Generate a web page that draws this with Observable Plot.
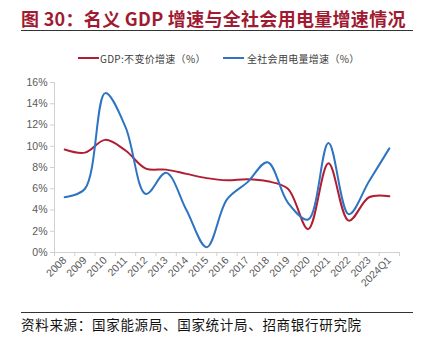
<!DOCTYPE html>
<html>
<head>
<meta charset="utf-8">
<script src="https://cdn.jsdelivr.net/npm/d3@7"></script>
<script src="https://cdn.jsdelivr.net/npm/@observablehq/plot@0.6"></script>
<style>
  html, body { margin: 0; padding: 0; background: #fff; }
  #wrap { position: relative; width: 424px; height: 337px; overflow: hidden; font-family: "Noto Sans CJK SC", sans-serif; }
  #title { position: absolute; left: 21px; top: 5px; font-size: 18px; font-weight: 700; color: #9E1B32; white-space: nowrap; letter-spacing: 0.3px; }
  #topline { position: absolute; left: 21px; top: 30px; width: 392px; height: 0; border-top: 1.5px solid #333; }
  #botline { position: absolute; left: 21px; top: 312px; width: 392px; height: 0; border-top: 1.5px solid #333; }
  #source { position: absolute; left: 21px; top: 314px; font-size: 13.5px; color: #111; white-space: nowrap; letter-spacing: 0.7px; }
  .leg { position: absolute; top: 51px; font-size: 10px; color: #404040; white-space: nowrap; letter-spacing: 0.3px; }
  .sw { position: absolute; top: 57px; width: 21px; height: 0; border-top: 2px solid; }
  #chart { position: absolute; left: 0; top: 0; }
</style>
</head>
<body>
<div id="wrap">
  <div id="chart"></div>
  <div id="title"></div>
  <div id="topline"></div>
  <div class="sw" id="sw1" style="left:78px;"></div>
  <div class="leg" id="leg1" style="left:100px;"></div>
  <div class="sw" id="sw2" style="left:223px;"></div>
  <div class="leg" id="leg2" style="left:247px;"></div>
  <div id="botline"></div>
  <div id="source"></div>
</div>
<script>
const titleText = "图 30：名义 GDP 增速与全社会用电量增速情况";
const sourceText = "资料来源：国家能源局、国家统计局、招商银行研究院";
const seriesNames = ["GDP:不变价增速（%）", "全社会用电量增速（%）"];
const seriesColors = ["#B01E33", "#2E74C2"];
const categories = ["2008","2009","2010","2011","2012","2013","2014","2015","2016","2017","2018","2019","2020","2021","2022","2023","2024Q1"];
const gdpGrowth = [9.7, 9.4, 10.6, 9.6, 7.9, 7.8, 7.4, 7.0, 6.8, 6.9, 6.7, 6.0, 2.2, 8.4, 3.0, 5.2, 5.3];
const powerGrowth = [5.2, 6.0, 15.0, 11.8, 5.5, 7.5, 4.0, 0.5, 5.0, 6.6, 8.5, 4.7, 3.1, 10.3, 3.6, 6.7, 9.8];
const yTicks = [0, 2, 4, 6, 8, 10, 12, 14, 16];

document.getElementById("title").textContent = titleText;
document.getElementById("source").textContent = sourceText;
document.getElementById("leg1").textContent = seriesNames[0];
document.getElementById("leg2").textContent = seriesNames[1];
document.getElementById("sw1").style.borderTopColor = seriesColors[0];
document.getElementById("sw2").style.borderTopColor = seriesColors[1];

const rows = [];
categories.forEach((c, i) => {
  rows.push({i, cat: c, v: gdpGrowth[i], s: seriesNames[0]});
  rows.push({i, cat: c, v: powerGrowth[i], s: seriesNames[1]});
});
const n = categories.length;
const bounds = d3.range(n + 1).map(k => k - 0.5);
const centers = d3.range(n);
const axisColor = "#d0d0d0";
const labelFont = "'Liberation Sans Narrow', 'Arial Narrow', 'Liberation Sans', sans-serif";

const chart = Plot.plot({
  width: 424,
  height: 337,
  marginTop: 82,
  marginBottom: 85,
  marginLeft: 54,
  marginRight: 25,
  style: { fontFamily: labelFont, fontSize: "10.5px", color: "#595959", background: "transparent" },
  x: { type: "linear", domain: [-0.5, n - 0.5] },
  y: { domain: [0, 16] },
  color: { domain: seriesNames, range: seriesColors },
  marks: [
    Plot.ruleY([0], { stroke: axisColor, strokeWidth: 1 }),
    Plot.ruleX([-0.5], { y1: 0, y2: 16, stroke: axisColor, strokeWidth: 1 }),
    Plot.axisY({ ticks: yTicks, tickFormat: d => d + "%", tickSize: 4, tickPadding: 3, stroke: axisColor, fill: "#595959", label: null }),
    Plot.axisX({ ticks: bounds, tickFormat: () => "", tickSize: 4, stroke: axisColor, label: null }),
    Plot.axisX({ ticks: centers, tickFormat: i => categories[i], tickSize: 0, tickPadding: 6, tickRotate: -45, fill: "#595959", label: null }),
    Plot.line(rows, { x: "i", y: "v", z: "s", stroke: "s", strokeWidth: 2, curve: "catmull-rom" })
  ]
});
document.getElementById("chart").appendChild(chart);
</script>
</body>
</html>
